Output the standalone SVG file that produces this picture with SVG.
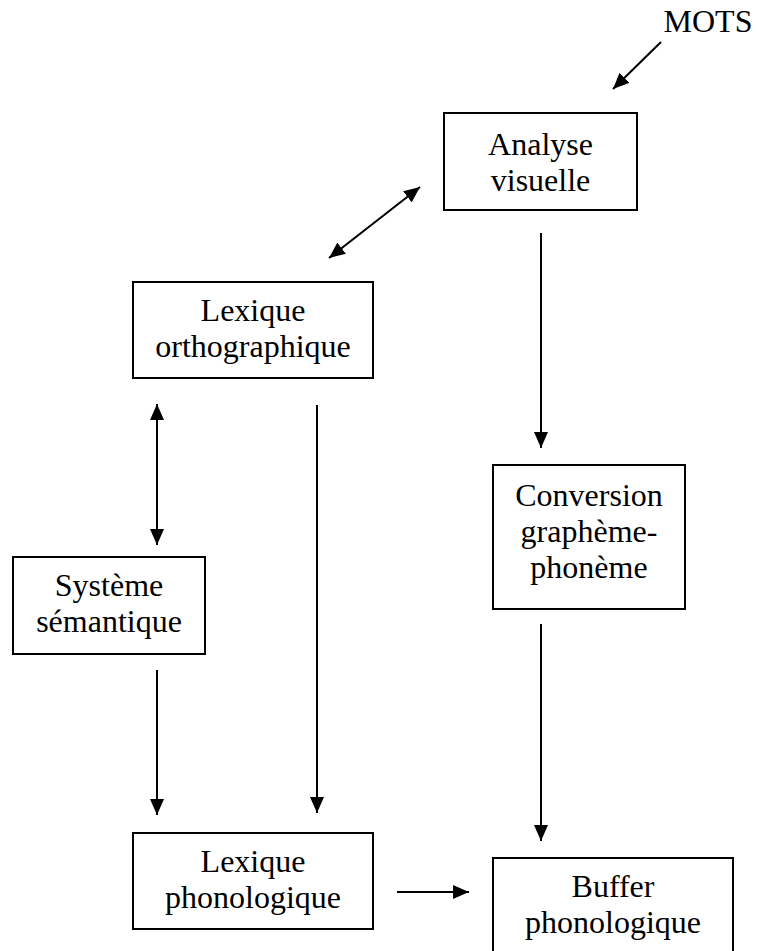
<svg xmlns="http://www.w3.org/2000/svg" width="757" height="951" viewBox="0 0 757 951">
<style>
.box{fill:#fff;stroke:#000;stroke-width:2}
.t{font-family:"Liberation Serif","Times New Roman",serif;font-size:32px;fill:#000;text-anchor:middle}
.c{stroke:#000;stroke-width:2;fill:none}
</style>
<defs>
<marker id="ahb" viewBox="0 0 16 14" refX="16" refY="7" markerWidth="16" markerHeight="14" markerUnits="userSpaceOnUse" orient="auto-start-reverse">
<path d="M0,0 L16,7 L0,14 z" fill="#000"/>
</marker>
</defs>
<rect width="757" height="951" fill="#fff"/>
<text class="t" x="708" y="32" id="mots">MOTS</text>
<g id="connectors">
<line class="c" x1="661" y1="42" x2="613" y2="89" marker-end="url(#ahb)"/>
<line class="c" x1="329" y1="258" x2="420" y2="187" marker-start="url(#ahb)" marker-end="url(#ahb)"/>
<line class="c" x1="541" y1="233" x2="541" y2="448" marker-end="url(#ahb)"/>
<line class="c" x1="157" y1="404" x2="157" y2="545" marker-start="url(#ahb)" marker-end="url(#ahb)"/>
<line class="c" x1="317" y1="405" x2="317" y2="813" marker-end="url(#ahb)"/>
<line class="c" x1="541" y1="624" x2="541" y2="841" marker-end="url(#ahb)"/>
<line class="c" x1="157" y1="670" x2="157" y2="815" marker-end="url(#ahb)"/>
<line class="c" x1="397" y1="892" x2="469" y2="892" marker-end="url(#ahb)"/>
</g>
<g id="analyse">
<rect class="box" x="444" y="113" width="193" height="97"/>
<text class="t" x="540.5" y="155">Analyse</text>
<text class="t" x="540.5" y="191">visuelle</text>
</g>
<g id="lexortho">
<rect class="box" x="133" y="282" width="240" height="96"/>
<text class="t" x="253" y="321">Lexique</text>
<text class="t" x="253" y="357">orthographique</text>
</g>
<g id="conversion">
<rect class="box" x="493" y="465" width="192" height="144"/>
<text class="t" x="589" y="506">Conversion</text>
<text class="t" x="589" y="542">graphème-</text>
<text class="t" x="589" y="578">phonème</text>
</g>
<g id="semantique">
<rect class="box" x="13" y="557" width="192" height="97"/>
<text class="t" x="109" y="596">Système</text>
<text class="t" x="109" y="632">sémantique</text>
</g>
<g id="lexphono">
<rect class="box" x="133" y="833" width="240" height="96"/>
<text class="t" x="253" y="872">Lexique</text>
<text class="t" x="253" y="908">phonologique</text>
</g>
<g id="buffer">
<rect class="box" x="493" y="858" width="240" height="100"/>
<text class="t" x="613" y="897">Buffer</text>
<text class="t" x="613" y="933">phonologique</text>
</g>
</svg>
